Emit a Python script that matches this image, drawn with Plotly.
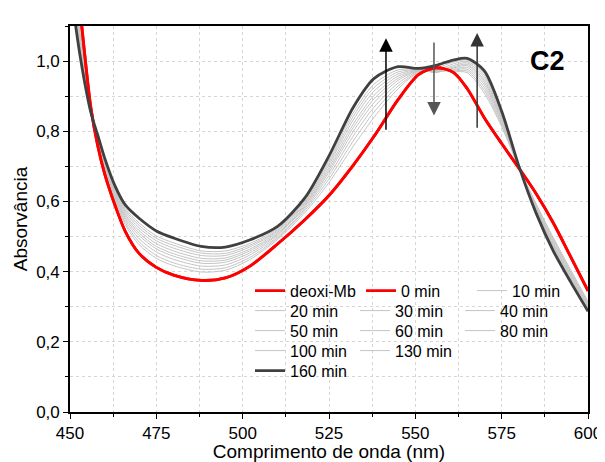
import plotly.graph_objects as go

# ---------------- data ----------------
wavelength = [450, 453, 456, 458, 460, 463, 466, 470, 475, 480, 488, 495, 502, 510,
              518, 525, 532, 538, 545, 551, 556, 561, 565, 570, 575, 580, 585, 590, 595, 600]

deoxi_mb = [1.45, 1.14, 0.87, 0.76, 0.68, 0.59, 0.515, 0.452, 0.412, 0.39, 0.375, 0.382, 0.415, 0.478,
            0.548, 0.617, 0.703, 0.785, 0.89, 0.962, 0.981, 0.968, 0.922, 0.838, 0.765, 0.695, 0.622, 0.538, 0.442, 0.345]
min_0 = [1.45, 1.14, 0.87, 0.76, 0.68, 0.59, 0.515, 0.452, 0.412, 0.39, 0.375, 0.382, 0.415, 0.478,
         0.548, 0.617, 0.703, 0.785, 0.89, 0.962, 0.981, 0.968, 0.922, 0.838, 0.765, 0.695, 0.622, 0.538, 0.442, 0.345]
min_10 = [1.393, 1.108, 0.866, 0.768, 0.691, 0.604, 0.534, 0.477, 0.438, 0.417, 0.399, 0.404, 0.434, 0.491,
          0.568, 0.654, 0.757, 0.839, 0.921, 0.968, 0.976, 0.970, 0.967, 0.908, 0.813, 0.697, 0.593, 0.496, 0.405, 0.315]
min_20 = [1.374, 1.097, 0.865, 0.770, 0.695, 0.608, 0.540, 0.485, 0.446, 0.425, 0.407, 0.411, 0.440, 0.495,
          0.574, 0.664, 0.772, 0.854, 0.929, 0.969, 0.973, 0.972, 0.972, 0.916, 0.818, 0.697, 0.590, 0.492, 0.400, 0.311]
min_30 = [1.353, 1.085, 0.864, 0.773, 0.699, 0.613, 0.547, 0.494, 0.456, 0.435, 0.416, 0.419, 0.447, 0.499,
          0.579, 0.674, 0.786, 0.868, 0.937, 0.971, 0.971, 0.974, 0.977, 0.924, 0.824, 0.698, 0.586, 0.487, 0.396, 0.308]
min_40 = [1.333, 1.074, 0.862, 0.775, 0.703, 0.618, 0.553, 0.503, 0.465, 0.444, 0.424, 0.427, 0.453, 0.504,
          0.584, 0.683, 0.799, 0.881, 0.945, 0.972, 0.969, 0.977, 0.982, 0.932, 0.829, 0.698, 0.583, 0.482, 0.392, 0.304]
min_50 = [1.317, 1.065, 0.861, 0.777, 0.706, 0.622, 0.559, 0.510, 0.472, 0.451, 0.431, 0.433, 0.459, 0.507,
          0.588, 0.690, 0.810, 0.892, 0.951, 0.973, 0.968, 0.980, 0.987, 0.939, 0.834, 0.699, 0.580, 0.478, 0.388, 0.302]
min_60 = [1.301, 1.056, 0.860, 0.780, 0.709, 0.626, 0.564, 0.517, 0.480, 0.459, 0.438, 0.439, 0.464, 0.511,
          0.592, 0.697, 0.820, 0.902, 0.957, 0.974, 0.968, 0.983, 0.991, 0.945, 0.839, 0.699, 0.577, 0.474, 0.384, 0.299]
min_80 = [1.282, 1.045, 0.859, 0.782, 0.713, 0.630, 0.570, 0.525, 0.488, 0.467, 0.446, 0.446, 0.470, 0.515,
          0.596, 0.705, 0.832, 0.914, 0.963, 0.975, 0.970, 0.987, 0.995, 0.952, 0.843, 0.699, 0.574, 0.470, 0.381, 0.296]
min_100 = [1.266, 1.036, 0.858, 0.784, 0.716, 0.634, 0.575, 0.532, 0.495, 0.475, 0.453, 0.452, 0.475, 0.518,
           0.600, 0.712, 0.842, 0.924, 0.969, 0.976, 0.974, 0.992, 0.999, 0.959, 0.848, 0.700, 0.572, 0.466, 0.377, 0.293]
min_130 = [1.250, 1.027, 0.857, 0.786, 0.719, 0.638, 0.580, 0.539, 0.502, 0.482, 0.459, 0.459, 0.480, 0.522,
           0.604, 0.719, 0.852, 0.934, 0.975, 0.977, 0.980, 0.997, 1.003, 0.964, 0.851, 0.700, 0.569, 0.463, 0.374, 0.290]
min_160 = [1.22, 1.01, 0.855, 0.79, 0.725, 0.645, 0.59, 0.552, 0.516, 0.496, 0.472, 0.47, 0.49, 0.528,
           0.61, 0.73, 0.868, 0.95, 0.984, 0.979, 0.988, 1.003, 1.008, 0.972, 0.857, 0.70, 0.566, 0.458, 0.37, 0.287]

x_ticks = [450, 475, 500, 525, 550, 575, 600]
y_ticks = [0.0, 0.2, 0.4, 0.6, 0.8, 1.0]

# ---------------- figure ----------------
FONT = "Arial, Liberation Sans, sans-serif"
RED = "#ff0000"
DARK = "#404040"
GRAY = "#c4c4c4"

fig = go.Figure()

grays = [("10 min", min_10, "legend", 3), ("20 min", min_20, "legend2", 1), ("30 min", min_30, "legend2", 2),
         ("40 min", min_40, "legend2", 3), ("50 min", min_50, "legend3", 1), ("60 min", min_60, "legend3", 2),
         ("80 min", min_80, "legend3", 3), ("100 min", min_100, "legend4", 1), ("130 min", min_130, "legend4", 2)]

for name, vals, lg, rank in grays:
    fig.add_trace(go.Scatter(x=wavelength, y=vals, mode="lines", name=name, legend=lg, legendrank=rank,
                             line=dict(color=GRAY, width=1, shape="spline", smoothing=0.8)))

fig.add_trace(go.Scatter(x=wavelength, y=deoxi_mb, mode="lines", name="deoxi-Mb", legend="legend", legendrank=1,
                         line=dict(color=RED, width=2.8, shape="spline", smoothing=0.8)))
fig.add_trace(go.Scatter(x=wavelength, y=min_0, mode="lines", name="0 min", legend="legend", legendrank=2,
                         line=dict(color=RED, width=2.8, shape="spline", smoothing=0.8)))
fig.add_trace(go.Scatter(x=wavelength, y=min_160, mode="lines", name="160 min", legend="legend5", legendrank=1,
                         line=dict(color=DARK, width=2.8, shape="spline", smoothing=0.8)))

# arrows
arrows = [(541.5, 1.065, 541.5, 0.80, "black"),
          (555.4, 0.845, 555.4, 1.057, "#555555"),
          (567.9, 1.08, 567.9, 0.806, "#333333")]
for xh, yh, xt, yt, c in arrows:
    fig.add_annotation(x=xh, y=yh, ax=xt, ay=yt, xref="x", yref="y", axref="x", ayref="y",
                       text="", showarrow=True, arrowhead=2, arrowsize=1.8, arrowwidth=1.5, arrowcolor=c)

fig.add_annotation(x=588.4, y=1.0, xref="x", yref="y", text="<b>C2</b>", showarrow=False,
                   font=dict(family=FONT, size=27, color="black"))

# page body has an 8px default margin: figure is sized/offset to compensate
OFF = 8
legend_common = dict(orientation="h", xanchor="left", yanchor="middle", x=0.3475,
                     bgcolor="rgba(0,0,0,0)", font=dict(family=FONT, size=16, color="black"),
                     entrywidthmode="pixels", tracegroupgap=0, itemwidth=30)
row_y = [290.7, 310.7, 330.7, 350.7, 370.7]
def py(p):
    return (412 - p) / 386

layout_legends = {}
names = ["legend", "legend2", "legend3", "legend4", "legend5"]
for i, n in enumerate(names):
    d = dict(legend_common)
    d["y"] = py(row_y[i])
    d["entrywidth"] = 66 if i == 0 else 60
    layout_legends[n] = d

axis_common = dict(showline=True, linecolor="black", linewidth=1.6, mirror=True,
                   ticks="outside", ticklen=5, tickwidth=1.4, tickcolor="black",
                   showgrid=True, gridcolor="#d6d6d6", griddash="dot", gridwidth=1,
                   zeroline=False, automargin=False,
                   tickfont=dict(family=FONT, size=17, color="black"))

fig.update_layout(
    width=605 - OFF, height=462 - OFF,
    margin=dict(l=70 - OFF, r=17, t=26 - OFF, b=50, autoexpand=False),
    paper_bgcolor="white", plot_bgcolor="white",
    separators=",.",
    showlegend=True,
    xaxis=dict(range=[450, 600], tickvals=x_ticks, ticktext=[str(v) for v in x_ticks],
               title=dict(text="Comprimento de onda (nm)", font=dict(family=FONT, size=19, color="black"), standoff=2),
               minor=dict(dtick=12.5, tick0=450, ticks="outside", ticklen=3, tickcolor="black",
                          showgrid=True, gridcolor="#d6d6d6", griddash="dot"),
               **axis_common),
    yaxis=dict(range=[0, 1.1], tickvals=y_ticks, tickformat=".1f",
               title=dict(text="Absorvância", font=dict(family=FONT, size=19, color="black"), standoff=4),
               minor=dict(dtick=0.1, tick0=0, ticks="outside", ticklen=3, tickcolor="black",
                          showgrid=True, gridcolor="#d6d6d6", griddash="dot"),
               **axis_common),
    **layout_legends,
)

fig.write_html("out.html")
